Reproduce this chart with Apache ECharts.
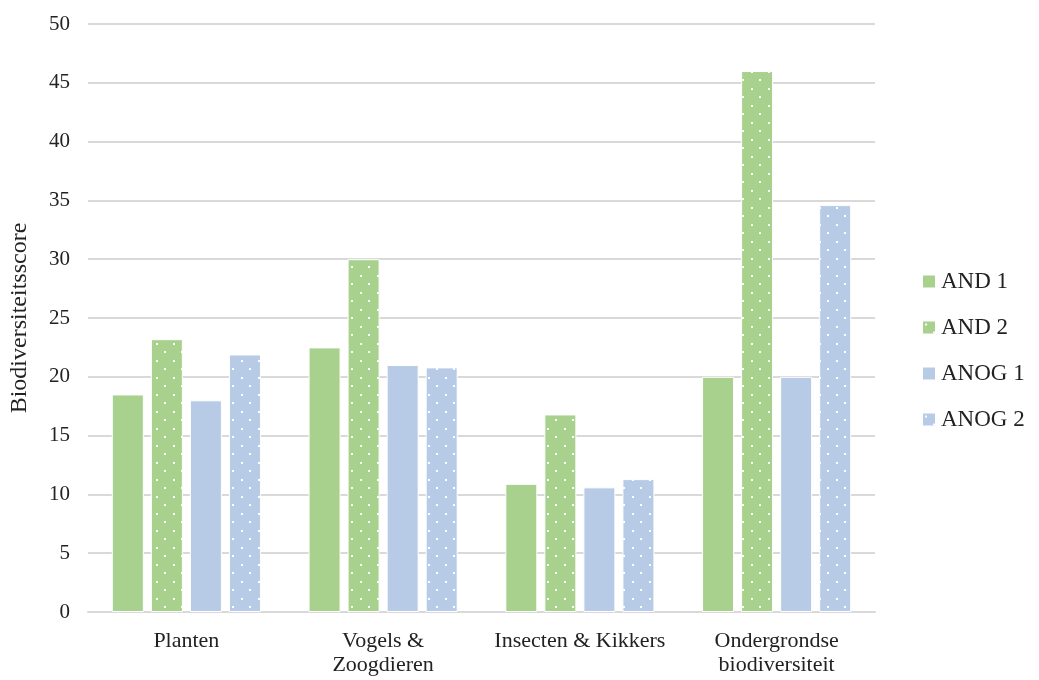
<!DOCTYPE html>
<html>
<head>
<meta charset="utf-8">
<script src="https://cdn.jsdelivr.net/npm/echarts@6/dist/echarts.min.js"></script>
<style>
  html, body { margin: 0; padding: 0; background: #fff; }
  #chart { width: 1039px; height: 680px; }
</style>
</head>
<body>
<div id="chart"></div>
<script>
const categories = ['Planten', 'Vogels &\nZoogdieren', 'Insecten & Kikkers', 'Ondergrondse\nbiodiversiteit']
const seriesNames = ['AND 1', 'AND 2', 'ANOG 1', 'ANOG 2']
const and1 = [18.5, 22.5, 10.9, 20.0]
const and2 = [23.2, 30.0, 16.8, 46.0]
const anog1 = [18.0, 21.0, 10.6, 20.0]
const anog2 = [21.9, 20.8, 11.3, 34.6]

const green = '#A9D18E'
const blue = '#B7CBE6'
const font = '"Liberation Serif", "Times New Roman", serif'

// dotted fill, like the Office "5%" pattern
function dotted(base) {
  const c = document.createElement('canvas')
  c.width = 17
  c.height = 17
  const ctx = c.getContext('2d')
  ctx.fillStyle = base
  ctx.fillRect(0, 0, 17, 17)
  ctx.fillStyle = '#ffffff'
  ctx.fillRect(3, 3, 2, 2)
  ctx.fillRect(11, 11, 2, 2)
  return { image: c, repeat: 'repeat' }
}

const fills = [green, dotted(green), blue, dotted(blue)]
const values = [and1, and2, anog1, anog2]

const myChart = echarts.init(document.getElementById('chart'), null, { renderer: 'canvas' })

myChart.setOption({
  animation: false,
  grid: { left: 85, right: 164, top: 24, bottom: 68 },
  legend: {
    orient: 'vertical',
    left: 916,
    top: 265,
    itemWidth: 14,
    itemHeight: 14,
    itemGap: 23,
    icon: 'rect',
    data: seriesNames,
    textStyle: { fontFamily: font, fontSize: 23, lineHeight: 23, color: '#222' },
  },
  xAxis: {
    type: 'category',
    data: categories,
    axisLine: { lineStyle: { color: '#D9D9D9', width: 2 } },
    axisTick: { show: false },
    axisLabel: {
      fontFamily: font,
      fontSize: 22,
      color: '#222',
      margin: 17,
      lineHeight: 24,
      interval: 0,
    },
  },
  yAxis: {
    type: 'value',
    min: 0,
    max: 50,
    interval: 5,
    name: 'Biodiversiteitsscore',
    nameLocation: 'middle',
    nameGap: 56,
    nameTextStyle: { fontFamily: font, fontSize: 24, color: '#222' },
    axisLine: { show: false },
    axisTick: { show: false },
    splitLine: { lineStyle: { color: '#D9D9D9', width: 2 } },
    axisLabel: {
      fontFamily: font,
      fontSize: 21,
      color: '#222',
      margin: 18,
    },
  },
  series: seriesNames.map((name, i) => ({
    name: name,
    type: 'bar',
    data: values[i],
    barWidth: 32,
    barGap: '22%',
    itemStyle: { color: fills[i], borderColor: '#fff', borderWidth: 1 },
  })),
})
</script>
</body>
</html>
